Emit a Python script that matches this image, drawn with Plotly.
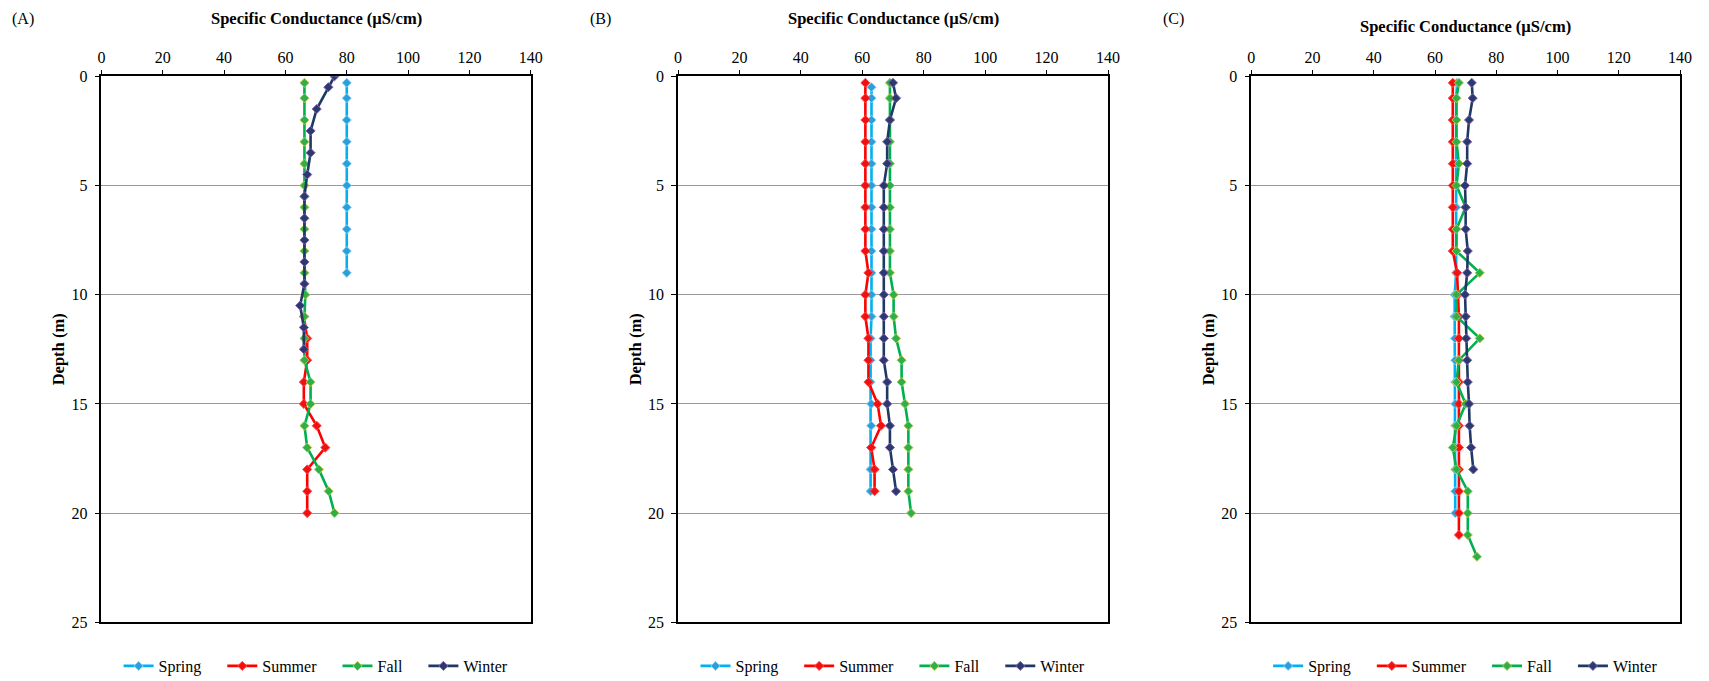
import plotly.graph_objects as go

# ---- Panel A ----
a_spring_depth = [0.3, 1, 2, 3, 4, 5, 6, 7, 8, 9]
a_spring_cond = [80, 80, 80, 80, 80, 80, 80, 80, 80, 80]
a_summer_depth = [11, 12, 13, 14, 15, 16, 17, 18, 19, 20]
a_summer_cond = [66, 67.1, 67.1, 66, 66, 70.2, 73, 67.1, 67.1, 67.1]
a_fall_depth = [0.3, 1, 2, 3, 4, 5, 6, 7, 8, 9, 10, 11, 12, 13, 14, 15, 16, 17, 18, 19, 20]
a_fall_cond = [66.2, 66.2, 66.2, 66.2, 66.2, 66.2, 66.2, 66.2, 66.2, 66.2, 66.5, 66.2, 66.2, 66.2,
               68.2, 68.2, 66.2, 67.1, 70.9, 74.1, 76]
a_winter_depth = [0, 0.5, 1.5, 2.5, 3.5, 4.5, 5.5, 6.5, 7.5, 8.5, 9.5, 10.5, 11.5, 12.5]
a_winter_cond = [76, 74, 70.2, 68.2, 68.2, 67.1, 66.2, 66.2, 66.2, 66.2, 66.2, 64.8, 66, 66]

# ---- Panel B ----
b_spring_depth = [0.5, 1, 2, 3, 4, 5, 6, 7, 8, 9, 10, 11, 12, 13, 14, 15, 16, 17, 18, 19]
b_spring_cond = [63, 63, 63, 63, 63, 63, 63, 63, 63, 63, 63, 63, 62.7, 62.7, 62.7, 62.9, 62.9, 62.9, 62.7, 62.7]
b_summer_depth = [0.3, 1, 2, 3, 4, 5, 6, 7, 8, 9, 10, 11, 12, 13, 14, 15, 16, 17, 18, 19]
b_summer_cond = [61, 61, 61, 61, 61, 61, 61, 61, 61, 62, 61, 61, 62, 62, 62, 65, 66.1, 62.9, 64, 64]
b_fall_depth = [0.3, 1, 2, 3, 4, 5, 6, 7, 8, 9, 10, 11, 12, 13, 14, 15, 16, 17, 18, 19, 20]
b_fall_cond = [69, 69, 69, 69, 69, 69, 69, 69, 69, 69, 70.2, 70.2, 71, 72.8, 72.8, 73.9, 75, 75, 75, 75, 75.9]
b_winter_depth = [0.3, 1, 2, 3, 4, 5, 6, 7, 8, 9, 10, 11, 12, 13, 14, 15, 16, 17, 18, 19]
b_winter_cond = [70, 71, 69, 68.1, 68.1, 67, 67, 67, 67, 67, 67, 67, 67, 67, 68.1, 68.1, 69, 69, 70, 71]

# ---- Panel C ----
c_spring_depth = [0.3, 1, 2, 3, 4, 5, 6, 7, 8, 9, 10, 11, 12, 13, 14, 15, 16, 17, 18, 19, 20]
c_spring_cond = [67.2, 66.9, 66.9, 66.9, 66.9, 66.9, 66.9, 66.9, 66.9, 66.9, 66.4, 66.4, 66.5, 66.6,
                 66.6, 66.6, 66.6, 66.6, 66.6, 66.6, 66.6]
c_summer_depth = [0.3, 1, 2, 3, 4, 5, 6, 7, 8, 9, 10, 11, 12, 13, 14, 15, 16, 17, 18, 19, 20, 21]
c_summer_cond = [65.8, 65.8, 65.8, 65.8, 65.8, 65.8, 65.8, 65.8, 65.8, 67.2, 67.5, 67.8, 67.8, 67.8,
                 67.8, 67.8, 67.8, 67.8, 67.8, 67.8, 67.8, 67.8]
c_fall_depth = [0.3, 1, 2, 3, 4, 5, 6, 7, 8, 9, 10, 11, 12, 13, 14, 15, 16, 17, 18, 19, 20, 21, 22]
c_fall_cond = [67.8, 67, 67, 67, 67.8, 67, 70, 67, 67, 74.6, 67, 67, 74.6, 67.8, 67, 70, 67, 65.8,
               67, 70.7, 70.7, 70.7, 73.7]
c_winter_depth = [0.3, 1, 2, 3, 4, 5, 6, 7, 8, 9, 10, 11, 12, 13, 14, 15, 16, 17, 18]
c_winter_cond = [72, 72.3, 71.1, 70.5, 70.5, 69.8, 70, 70, 70.7, 70.5, 69.8, 70, 70.2, 70.5, 70.7,
                 71.1, 71.3, 71.8, 72.5]

seasons = ["Spring", "Summer", "Fall", "Winter"]
panel_labels = ["(A)", "(B)", "(C)"]
x_ticks = [0, 20, 40, 60, 80, 100, 120, 140]
y_ticks = [0, 5, 10, 15, 20, 25]

panels = [
    [(a_spring_depth, a_spring_cond), (a_summer_depth, a_summer_cond),
     (a_fall_depth, a_fall_cond), (a_winter_depth, a_winter_cond)],
    [(b_spring_depth, b_spring_cond), (b_summer_depth, b_summer_cond),
     (b_fall_depth, b_fall_cond), (b_winter_depth, b_winter_cond)],
    [(c_spring_depth, c_spring_cond), (c_summer_depth, c_summer_cond),
     (c_fall_depth, c_fall_cond), (c_winter_depth, c_winter_cond)],
]

W, H = 1709, 681
FONT = "Liberation Serif"
NBSP = "\u00a0"

line_colors = {"Spring": "#00B0F0", "Summer": "#FF0000", "Fall": "#00B050", "Winter": "#1F3864"}
marker_fill = {"Spring": "#2A9FDB", "Summer": "#F01010", "Fall": "#2DB04A", "Winter": "#2A3A70"}
marker_edge = {"Spring": "#8AD3F5", "Summer": "#FF4A4A", "Fall": "#B8C850", "Winter": "#8060A8"}

# plot-area boxes in pixels: (left, right)
x_px = [(101.4, 530.8), (678.0, 1108.0), (1251.3, 1680.0)]
y_top_px, y_bot_px = 76.3, 622.3
title_y_px = [18.5, 18.5, 27.0]
label_x_px = [23, 600, 1173]
ylabel_x_px = [58, 635, 1208]

fig = go.Figure()
layout = dict(
    width=W, height=H,
    margin=dict(l=0, r=0, t=0, b=0, autoexpand=False),
    paper_bgcolor="white", plot_bgcolor="white",
    font=dict(family=FONT, size=16, color="black"),
    annotations=[],
)

for i, series in enumerate(panels):
    suffix = "" if i == 0 else str(i + 1)
    xa, ya = "x" + suffix, "y" + suffix
    leg = "legend" + suffix
    for k, (name, (depth, cond)) in enumerate(zip(seasons, series)):
        fig.add_trace(go.Scatter(
            x=cond, y=depth, mode="lines+markers",
            name=name + (NBSP * 4 if k < len(seasons) - 1 else ""),
            xaxis=xa, yaxis=ya, legend=leg,
            line=dict(color=line_colors[name], width=2.6),
            marker=dict(symbol="diamond", size=7, color=marker_fill[name],
                        line=dict(color=marker_edge[name], width=1)),
        ))
    l, r = x_px[i]
    dom_x = [l / W, r / W]
    dom_y = [1 - y_bot_px / H, 1 - y_top_px / H]
    layout["xaxis" + suffix] = dict(
        domain=dom_x, anchor=ya, side="top", range=[0, 140],
        tickvals=x_ticks, ticks="outside", ticklen=5, tickcolor="black",
        showline=True, linecolor="black", linewidth=1.6, mirror=True,
        showgrid=False, zeroline=False, fixedrange=True, automargin=False,
        tickfont=dict(family=FONT, size=16, color="black"),
    )
    layout["yaxis" + suffix] = dict(
        domain=dom_y, anchor=xa, range=[25, 0],
        tickvals=y_ticks, ticks="outside", ticklen=5, tickcolor="black",
        showline=True, linecolor="black", linewidth=1.6, mirror=True,
        showgrid=True, gridcolor="#999999", gridwidth=1, zeroline=False,
        ticklabelstandoff=4, automargin=False,
        tickfont=dict(family=FONT, size=16, color="black"),
    )
    layout[leg] = dict(
        orientation="h", x=(l + r) / 2 / W, xanchor="center",
        y=1 - 666 / H, yanchor="middle", bgcolor="rgba(0,0,0,0)",
        font=dict(family=FONT, size=16, color="black"),
        itemwidth=30, tracegroupgap=0,
    )
    layout["annotations"] += [
        dict(text="<b>Specific Conductance (µS/cm)</b>", xref="paper", yref="paper",
             x=(l + r) / 2 / W, y=1 - title_y_px[i] / H, xanchor="center", yanchor="middle",
             showarrow=False, font=dict(family=FONT, size=16.5, color="black")),
        dict(text=panel_labels[i], xref="paper", yref="paper",
             x=label_x_px[i] / W, y=1 - 19 / H, xanchor="center", yanchor="middle",
             showarrow=False, font=dict(family=FONT, size=16, color="black")),
        dict(text="<b>Depth (m)</b>", xref="paper", yref="paper", textangle=-90,
             x=ylabel_x_px[i] / W, y=1 - (y_top_px + y_bot_px) / 2 / H,
             xanchor="center", yanchor="middle",
             showarrow=False, font=dict(family=FONT, size=16.5, color="black")),
    ]

fig.update_layout(**layout)
fig.write_html("out.html")
